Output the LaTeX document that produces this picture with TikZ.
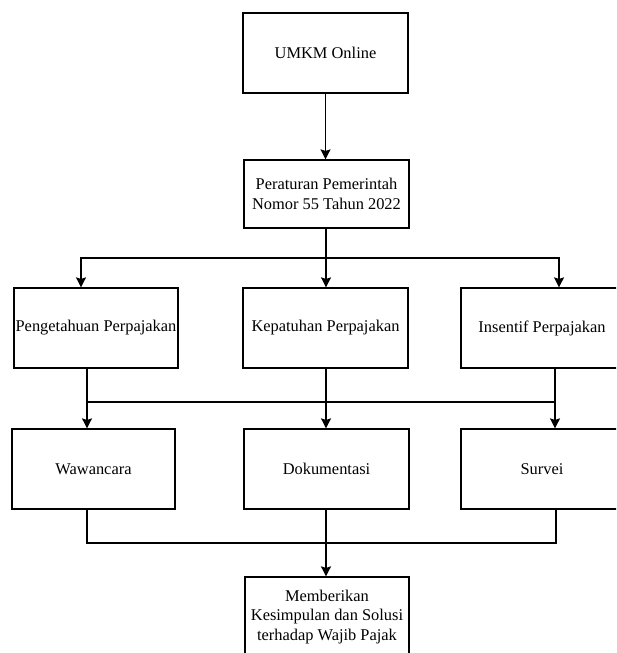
\documentclass[tikz,border=0pt]{standalone}
\usepackage{fontspec}
\setmainfont{Liberation Serif}
\usetikzlibrary{arrows.meta,calc}
\begin{document}
\begin{tikzpicture}[x=1pt,y=-1pt,
  box/.style={draw=black,line width=1.2pt,rectangle,inner sep=0pt,align=center,
    minimum height=80pt,font=\fontsize{16.4}{19.5}\selectfont},
  conn/.style={draw=black,line width=1.2pt},
  arr/.style={conn,-{Stealth[width=10pt,length=10pt,inset=1.5pt]}}]
\useasboundingbox (0,0) rectangle (616,653);
\clip (0,0) rectangle (616,653);
\fill[white] (0,0) rectangle (616,653);
% nodes
\node[box,minimum width=165pt] (umkm) at (325.5,53) {UMKM Online};
\node[box,minimum width=165pt,minimum height=68pt] (per) at (326.5,194) {Peraturan Pemerintah\\Nomor 55 Tahun 2022};
\node[box,minimum width=164pt] (peng) at (96,328) {Pengetahuan Perpajakan};
\node[box,minimum width=165pt] (kep) at (325.5,328) {Kepatuhan Perpajakan};
\node[box,minimum width=162pt] (ins) at (542,328) {Insentif Perpajakan};
\node[box,minimum width=163pt] (waw) at (93.5,469) {Wawancara};
\node[box,minimum width=165pt] (dok) at (326.5,469) {Dokumentasi};
\node[box,minimum width=162pt] (sur) at (542,469) {Survei};
\node[box,minimum width=164pt] (mem) at (327,617) {Memberikan\\Kesimpulan dan Solusi\\terhadap Wajib Pajak};
% junction coordinates
\coordinate (sp) at (326,258);
\coordinate (pl) at (81,258);
\coordinate (pr) at (559,258);
\coordinate (ml) at (87,402);
\coordinate (mr) at (555,402);
\coordinate (bl) at (87,543);
\coordinate (br) at (556,543);
% connectors
\draw[arr] (umkm.south) -- (umkm.south |- per.north);
\draw[arr] (per.south -| sp) -- (sp |- kep.north);
\draw[arr] (sp) -| (pl |- peng.north);
\draw[arr] (sp) -| (pr |- ins.north);
\draw[arr] (ml |- peng.south) -- (ml |- waw.north);
\draw[arr] (mr |- ins.south) -- (mr |- sur.north);
\draw[conn] (ml) -- (mr);
\draw[arr] (kep.south -| sp) -- (sp |- dok.north);
\draw[conn] (bl |- waw.south) -- (bl) -- (br) -- (br |- sur.south);
\draw[arr] (dok.south -| sp) -- (sp |- mem.north);
\end{tikzpicture}
\end{document}
